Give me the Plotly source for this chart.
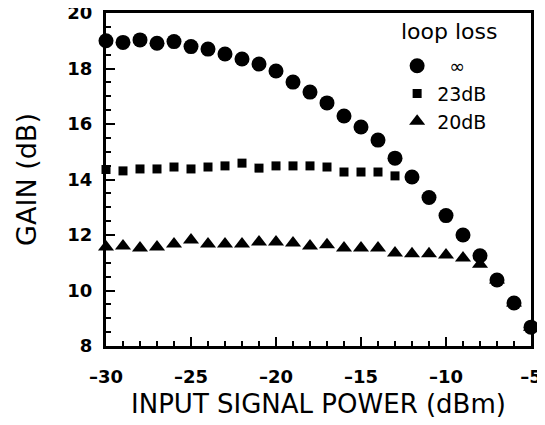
import plotly.graph_objects as go

power_dbm = [-30, -29, -28, -27, -26, -25, -24, -23, -22, -21, -20, -19, -18,
             -17, -16, -15, -14, -13, -12, -11, -10, -9, -8, -7, -6, -5]

gain_inf = [19.0, 18.94, 19.03, 18.91, 18.97, 18.79, 18.70, 18.52, 18.34, 18.16,
            17.91, 17.51, 17.15, 16.76, 16.29, 15.89, 15.42, 14.77, 14.09, 13.35,
            12.70, 12.0, 11.25, 10.38, 9.55, 8.68]

gain_23db = [14.36, 14.31, 14.38, 14.38, 14.45, 14.38, 14.45, 14.49, 14.59, 14.41,
             14.49, 14.49, 14.49, 14.45, 14.27, 14.27, 14.27, 14.13, 14.09, 13.35,
             12.70, 12.0, 11.25, 10.38, 9.55, 8.68]

gain_20db = [11.57, 11.6, 11.53, 11.57, 11.68, 11.82, 11.68, 11.68, 11.68, 11.75,
             11.75, 11.71, 11.6, 11.65, 11.53, 11.53, 11.53, 11.35, 11.32, 11.32,
             11.28, 11.17, 10.95, 10.38, 9.55, 8.68]

x_tickvals = [-30, -25, -20, -15, -10, -5]
x_ticktext = ["\u201330", "\u201325", "\u201320", "\u201315", "\u201310", "\u20135"]
y_tickvals = [8, 10, 12, 14, 16, 18, 20]
y_ticktext = ["8\u2009\u2009", "10\u2009\u2009", "12\u2009\u2009", "14\u2009\u2009",
              "16\u2009\u2009", "18\u2009\u2009", "20\u2009\u2009"]

legend_title = "loop loss"
legend_names = ["  \u221e", "23dB", "20dB"]

fig = go.Figure()
fig.add_trace(go.Scatter(x=power_dbm, y=gain_20db, mode="markers", name=legend_names[2],
                         marker=dict(symbol="triangle-up", size=14, color="black"),
                         cliponaxis=False))
fig.add_trace(go.Scatter(x=power_dbm, y=gain_23db, mode="markers", name=legend_names[1],
                         marker=dict(symbol="square", size=9, color="black"),
                         cliponaxis=False))
fig.add_trace(go.Scatter(x=power_dbm, y=gain_inf, mode="markers", name=legend_names[0],
                         marker=dict(symbol="circle", size=15, color="black"),
                         cliponaxis=False))

tick_font = dict(family="DejaVu Sans", size=18, color="black", weight="bold")

# page body has an 8px default margin: margins compensate for that offset
fig.update_layout(
    width=545, height=425,
    margin=dict(l=98, r=22, t=5, b=87, autoexpand=False),
    paper_bgcolor="white", plot_bgcolor="white",
    showlegend=True,
    legend=dict(
        x=0.685, y=0.898, xanchor="left", yanchor="top",
        traceorder="reversed",
        font=dict(family="DejaVu Sans", size=19, color="black"),
        bgcolor="rgba(0,0,0,0)", itemwidth=30, tracegroupgap=0,
    ),
    annotations=[
        dict(text=legend_title, xref="paper", yref="paper", x=0.809, y=0.943,
             xanchor="center", yanchor="middle", showarrow=False,
             font=dict(family="DejaVu Sans", size=22, color="black")),
    ],
    xaxis=dict(
        range=[-30, -5], showgrid=False, zeroline=False, automargin=False,
        showline=True, linecolor="black", linewidth=3, mirror=True,
        tickmode="array", tickvals=x_tickvals, ticktext=x_ticktext,
        ticks="inside", ticklen=9, tickwidth=2, tickcolor="black",
        ticklabelstandoff=12, ticklabeloverflow="allow",
        minor=dict(dtick=1, ticks="inside", ticklen=5, tickwidth=1.5, tickcolor="black"),
        tickfont=tick_font,
        title=dict(text="\u2002INPUT SIGNAL POWER (dBm)", standoff=10,
                   font=dict(family="DejaVu Sans", size=26, color="black")),
    ),
    yaxis=dict(
        range=[8, 20], showgrid=False, zeroline=False, automargin=False,
        showline=True, linecolor="black", linewidth=3, mirror=True,
        tickmode="array", tickvals=y_tickvals, ticktext=y_ticktext,
        ticks="inside", ticklen=9, tickwidth=2, tickcolor="black",
        ticklabeloverflow="allow",
        minor=dict(dtick=0.5, ticks="inside", ticklen=5, tickwidth=1.5, tickcolor="black"),
        tickfont=tick_font,
        title=dict(text="GAIN (dB)", standoff=23,
                   font=dict(family="DejaVu Sans", size=27, color="black")),
    ),
)

fig.write_html("out.html")
